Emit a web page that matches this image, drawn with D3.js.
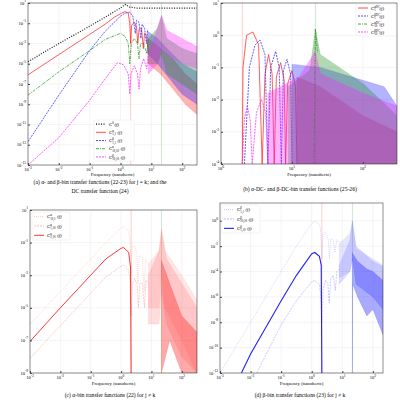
<!DOCTYPE html>
<html>
<head>
<meta charset="utf-8">
<script src="https://cdn.jsdelivr.net/npm/d3@7"></script>
<style>
  body { margin: 0; background: #fff; }
  text { font-family: "Liberation Serif", "DejaVu Serif", serif; }
</style>
</head>
<body>
<div id="chart"></div>
<script>
"use strict";

// all points are [log10 f, log10 C]; bands are [log10 f, log10 lo, log10 hi]

// panel (a)
var aC0 = [[-3,-4.8],[-2,-3.0],[-1,-1.3],[-0.5,-0.4],[0,0.5],[0.15,0.85],[0.3,0.6],[0.5,0.5],[1,0.5],[2.48,0.5]];
var aRed = [[-3,-6.1],[-2,-4.1],[-1,-2.1],[-0.5,-1.1],[-0.2,-0.4],[0,-0.05],[0.15,0.15],[0.25,0],[0.3,-1],[0.33,-3],[0.36,-1.2],[0.45,-0.9],[0.52,-1.4],[0.56,-3],[0.6,-1.6],[0.68,-1.5],[0.74,-3.5],[0.78,-2],[0.85,-2.2],[0.9,-4]];
var aRedBand = [[0.9,-5,-2.5],[1.3,-6,-3.5],[1.7,-7.5,-4.5],[2.1,-9,-6],[2.48,-10,-7]];
var aBlue = [[-3,-12.7],[-2,-8.1],[-1,-3.7],[-0.5,-1.8],[0,-0.3],[0.15,0],[0.3,0.1],[0.4,-0.3],[0.48,-2],[0.52,-0.7],[0.6,-0.9],[0.66,-2.5],[0.7,-1.1],[0.78,-1.5],[0.84,-3],[0.88,-1.6]];
var aBlueBand = [[0.88,-4,-1.8],[1.2,-5,-2.5],[1.6,-6.5,-3.8],[2,-8,-5],[2.48,-9,-5.8]];
var aGreen = [[-3,-8.1],[-2,-5.8],[-1,-3.7],[-0.5,-2.6],[0,-2.0],[0.15,-2.3],[0.25,-3],[0.3,-5],[0.35,-3],[0.45,-2.5],[0.55,-3],[0.6,-4.5],[0.65,-3],[0.75,-3],[0.85,-4],[0.9,-2.6]];
var aGreenBand = [[0.9,-5,-2.5],[1.2,-5,-1.5],[1.33,-4,-0.3],[1.5,-6,-2.5],[2,-7,-3.5],[2.48,-8,-4]];
var aMag = [[-3,-15.9],[-2,-12.3],[-1,-8.6],[-0.5,-6.5],[-0.1,-4.9],[0.1,-5.1],[0.25,-6],[0.3,-8],[0.34,-6],[0.45,-5.2],[0.55,-6],[0.6,-7.5],[0.65,-5.5],[0.75,-4.5],[0.85,-5.5],[0.9,-4]];
var aMagBand = [[0.9,-6,-4],[1.2,-5,-1.5],[1.33,-3.5,-0.2],[1.5,-4,-1.7],[2,-5,-2.5],[2.48,-5.5,-3.3]];

// panel (b)
var bRed = [[0.3,-4],[0.31,-1],[0.36,0],[0.45,0.1],[0.53,-0.3],[0.58,-4],[0.62,-1.2],[0.67,-0.6],[0.72,-1.2],[0.75,-4],[0.78,-1.3],[0.84,-0.85],[0.89,-1.4],[0.91,-4],[0.94,-1.5],[1.0,-1.1],[1.05,-1.6],[1.07,-4]];
var bRedBand = [[1.07,-4,-1.3],[1.4,-4,-1.6],[2,-4,-2.5],[2.48,-4,-3]];
var bBlue = [[0.33,-4],[0.4,-1],[0.48,-0.3],[0.55,-0.15],[0.62,-0.6],[0.66,-4],[0.7,-1],[0.77,-0.5],[0.82,-1],[0.85,-4],[0.88,-1.1],[0.93,-0.75],[0.98,-1.2],[1.0,-4]];
var bBlueBand = [[1.0,-4,-0.9],[1.4,-4,-1.0],[2,-4,-1.4],[2.3,-4,-1.6],[2.48,-4,-2.2]];
var bGreen = [[1.31,-4],[1.33,0.2],[1.36,-0.5]];
var bGreenBand = [[0.95,-4,-1.6],[1.25,-4,-1.1],[1.33,-4,0.2],[1.4,-4,-0.6],[2,-4,-1.5],[2.48,-4,-2.5]];
var bMag = [[0.3,-4],[0.33,-2.6],[0.37,-2.2],[0.41,-2.6],[0.44,-4],[0.5,-2.4],[0.57,-2],[0.63,-2.4],[0.66,-4]];
var bMagBand = [[0.66,-4,-1.8],[1.1,-4,-1.3],[1.33,-4,-0.5],[1.4,-4,-1.2],[2,-4,-1.8],[2.48,-4,-2.2]];

// panel (c)
var cTop = [[-3,-6],[-2,-4],[-1,-2],[-0.5,-1],[0,-0.1],[0.1,0],[0.25,-0.3],[0.3,-1],[0.33,-3],[0.36,-1.3],[0.45,-1.2],[0.52,-1.7],[0.56,-3.5],[0.6,-1.8],[0.7,-1.9],[0.76,-4],[0.8,-2],[0.9,-2.3]];
var cTopBand = [[0.9,-5,-2.3],[1.25,-5,-1.5],[1.33,-3,-0.1],[1.45,-5,-1.5],[2,-7,-3],[2.5,-9,-4.5]];
var cMid = [[-3,-7.06],[-2,-5],[-1,-3],[-0.5,-2],[0,-1.35],[0.08,-1.3],[0.25,-1.6],[0.31,-2.5],[0.33,-9]];
var cMidBand = [[1.33,-9,-2.1],[1.6,-7,-3.5],[2,-9,-5.5],[2.5,-9,-6.5]];
var cLow = [[-3,-8.1],[-2,-6.1],[-1,-4.1],[-0.5,-3.1],[0,-2.45],[0.1,-2.4],[0.25,-2.7],[0.3,-3.5],[0.33,-5.5],[0.37,-3.5],[0.45,-3.2],[0.53,-3.6],[0.57,-5],[0.62,-3.5],[0.7,-3.5],[0.77,-5],[0.82,-3.3],[0.9,-3.5]];
var cLowBand = [[0.9,-6,-3],[1.25,-6,-1.5],[1.33,-4,-0.3],[1.5,-6,-2],[2,-8,-3.5],[2.5,-9,-5]];

// panel (d)
var dTop = [[-3,-12],[-2,-8],[-1,-4],[-0.5,-2],[0,-0.2],[0.15,0],[0.28,-0.5],[0.33,-3],[0.37,-1],[0.46,-0.9],[0.54,-1.5],[0.58,-3],[0.62,-1.4],[0.7,-1.5],[0.76,-2.5],[0.82,-1.5],[0.9,-1.8]];
var dTopBand = [[0.9,-4.5,-1.8],[1.25,-4,-1],[1.33,-3,0],[1.45,-5,-2.2],[2,-6,-3],[2.33,-7,-3.5]];
var dMid = [[-2.3,-12],[-2,-10.5],[-1,-6.3],[-0.5,-4.3],[0,-2.6],[0.1,-2.5],[0.25,-2.8],[0.31,-3.5],[0.33,-12]];
var dMidBand = [[1.33,-12,-2.5],[1.34,-5,-2.6],[1.5,-6,-3.2],[1.8,-7.5,-3.8],[2,-7,-4],[2.33,-9,-4.7]];
var dLow = [[-1.8,-12],[-1,-8.2],[-0.5,-6.3],[0,-4.8],[0.1,-4.7],[0.25,-5],[0.3,-6],[0.33,-8],[0.37,-5.5],[0.45,-4.7],[0.53,-5],[0.57,-6.5],[0.62,-4.6],[0.7,-4.3],[0.77,-5.5],[0.82,-4],[0.9,-3.8]];
var dLowBand = [[0.9,-5,-3.5],[1.25,-4,-1.5],[1.33,-3,0],[1.45,-5,-2],[2,-6,-3.2],[2.33,-7,-3.6]];

var RED = "#ff2020", BLUE = "#2020ff", GREEN = "#209020", MAG = "#ff20ff";

var panels = [
    { box: [28, 197, 3, 165], xd: [-3, 2.48], yd: [-15, 1], ystep: 2, vlines: [0.33, 1.33],
      xlabelY: 176, caption: ["(a) \u03b1- and \u03b2-bin transfer functions (22-23) for j = k; and the", "DC transfer function (24)"], capY: 184, capX: 100,
      legend: { x: 94, y: 120, w: 40, h: 41 },
      series: [
        { pts: aC0, color: "#000", dash: "1,1.5", w: 1.2, label: ["C", "0", ""] },
        { pts: aRed, band: aRedBand, color: RED, dash: null, w: 0.8, label: ["C", "\u03b1", "1,1"] },
        { pts: aBlue, band: aBlueBand, color: BLUE, dash: "2,1", w: 0.8, label: ["C", "\u03b2", "1,1"] },
        { pts: aGreen, band: aGreenBand, color: GREEN, dash: "3,1,1,1", w: 0.8, label: ["C", "\u03b1", "10,10"] },
        { pts: aMag, band: aMagBand, color: MAG, dash: "2,1", w: 0.8, label: ["C", "\u03b2", "10,10"] }
      ] },
    { box: [221, 397, 3, 164], xd: [0, 2.48], yd: [-4, 1], ystep: 1, vlines: [0.3, 1.33],
      xlabelY: 176, caption: ["(b) \u03b1-DC- and \u03b2-DC-bin transfer functions (25-26)"], capY: 191, capX: 300,
      legend: { x: 356, y: 4, w: 40, h: 32 },
      series: [
        { pts: bRed, band: bRedBand, color: RED, dash: null, w: 0.8, label: ["C", "\u03b1DC", "1"] },
        { pts: bBlue, band: bBlueBand, color: BLUE, dash: "2,1", w: 0.8, label: ["C", "\u03b2DC", "1"] },
        { pts: bGreen, band: bGreenBand, color: GREEN, dash: "3,1,1,1", w: 0.8, label: ["C", "\u03b1DC", "10"] },
        { pts: bMag, band: bMagBand, color: MAG, dash: "2,1", w: 0.8, label: ["C", "\u03b2DC", "10"] }
      ] },
    { box: [30, 197, 210, 373], xd: [-3, 2.5], yd: [-9, 1], ystep: 2, vlines: [0.33, 1.33],
      xlabelY: 385, caption: ["(c) \u03b1-bin transfer functions (22) for j \u2260 k"], capY: 397, capX: 110,
      legend: { x: 32, y: 212, w: 38, h: 28 },
      series: [
        { pts: cTop, band: cTopBand, color: RED, dash: "1,1", w: 0.6, op: 0.3, label: ["C", "\u03b1", "10,1"] },
        { pts: cLow, band: cLowBand, color: RED, dash: "2,1", w: 0.6, op: 0.4, label: ["C", "\u03b1", "1,10"] },
        { pts: cMid, band: cMidBand, color: RED, dash: null, w: 0.9, op: 1, label: ["C", "\u03b1", "2,10"] }
      ] },
    { box: [220, 383, 203, 373], xd: [-3, 2.33], yd: [-12, 1.4], ystep: 2, vlines: [0.33, 1.33],
      xlabelY: 385, caption: ["(d) \u03b2-bin transfer functions (23) for j \u2260 k"], capY: 397, capX: 300,
      legend: { x: 222, y: 205, w: 38, h: 28 },
      series: [
        { pts: dTop, band: dTopBand, color: BLUE, dash: "1,1", w: 0.6, op: 0.3, label: ["C", "\u03b2", "1,1"] },
        { pts: dLow, band: dLowBand, color: BLUE, dash: "2,1", w: 0.6, op: 0.4, label: ["C", "\u03b2", "10,10"] },
        { pts: dMid, band: dMidBand, color: BLUE, dash: null, w: 1.1, op: 1, label: ["C", "\u03b2", "1,10"] }
      ] }
];

var svg = d3.select("#chart").append("svg").attr("width", 400).attr("height", 400);

function pow10(v) { return Math.pow(10, v); }

function powLabel(sel, e) {
    sel.text("10");
    sel.append("tspan").attr("dy", -2.5).attr("font-size", 3.6).text(e);
}

panels.forEach(function (p, pi) {
    var x = d3.scaleLog().domain(p.xd.map(pow10)).range([p.box[0], p.box[1]]),
        y = d3.scaleLog().domain(p.yd.map(pow10)).range([p.box[3], p.box[2]]).clamp(true),
        g = svg.append("g"),
        clipId = "clip" + pi,
        xt = d3.range(Math.ceil(p.xd[0]), Math.floor(p.xd[1]) + 1),
        yt = d3.range(Math.ceil(p.yd[0]), Math.floor(p.yd[1]) + 1).filter(function (e) { return (e - p.yd[0]) % p.ystep === 0; });

    g.append("clipPath").attr("id", clipId).append("rect")
        .attr("x", p.box[0]).attr("y", p.box[2])
        .attr("width", p.box[1] - p.box[0]).attr("height", p.box[3] - p.box[2]);

    // grid
    g.selectAll(".gx").data(xt).enter().append("line")
        .attr("x1", function (e) { return x(pow10(e)); }).attr("x2", function (e) { return x(pow10(e)); })
        .attr("y1", p.box[2]).attr("y2", p.box[3]).attr("stroke", "#e8e8e8").attr("stroke-width", 0.5);
    g.selectAll(".gy").data(yt).enter().append("line")
        .attr("y1", function (e) { return y(pow10(e)); }).attr("y2", function (e) { return y(pow10(e)); })
        .attr("x1", p.box[0]).attr("x2", p.box[1]).attr("stroke", "#e8e8e8").attr("stroke-width", 0.5);

    var plot = g.append("g").attr("clip-path", "url(#" + clipId + ")");

    plot.selectAll(".vl").data(p.vlines).enter().append("line")
        .attr("x1", function (v) { return x(pow10(v)); }).attr("x2", function (v) { return x(pow10(v)); })
        .attr("y1", p.box[2]).attr("y2", p.box[3])
        .attr("stroke", function (v, i) { return i === 0 ? "#ffb8b8" : "#bcdcbc"; }).attr("stroke-width", 0.7);

    var line = d3.line().x(function (d) { return x(pow10(d[0])); }).y(function (d) { return y(pow10(d[1])); });
    var area = d3.area().x(function (d) { return x(pow10(d[0])); })
        .y0(function (d) { return y(pow10(d[1])); }).y1(function (d) { return y(pow10(d[2])); });

    p.series.forEach(function (s) {
        var op = s.op === undefined ? 0.9 : s.op;
        if (s.band) {
            // dense oscillations drawn as a translucent envelope
            plot.append("path").attr("d", area(s.band)).attr("fill", s.color)
                .attr("fill-opacity", op * 0.38)
                .attr("stroke", s.color).attr("stroke-opacity", op * 0.5).attr("stroke-width", 0.3);
        }
        plot.append("path").attr("d", line(s.pts)).attr("fill", "none")
            .attr("stroke", s.color).attr("stroke-width", s.w).attr("stroke-opacity", op)
            .attr("stroke-dasharray", s.dash);
    });

    // frame + ticks
    g.append("rect").attr("x", p.box[0]).attr("y", p.box[2])
        .attr("width", p.box[1] - p.box[0]).attr("height", p.box[3] - p.box[2])
        .attr("fill", "none").attr("stroke", "#444").attr("stroke-width", 0.6);

    var xAxis = d3.axisBottom(x).tickValues(xt.map(pow10)).tickSize(-2).tickFormat("");
    g.append("g").attr("transform", "translate(0," + p.box[3] + ")").call(xAxis)
        .call(function (a) { a.select(".domain").remove(); a.selectAll("line").attr("stroke", "#444"); });
    var yAxis = d3.axisLeft(y).tickValues(yt.map(pow10)).tickSize(-2).tickFormat("");
    g.append("g").attr("transform", "translate(" + p.box[0] + ",0)").call(yAxis)
        .call(function (a) { a.select(".domain").remove(); a.selectAll("line").attr("stroke", "#444"); });

    g.selectAll(".xl").data(xt).enter().append("text")
        .attr("x", function (e) { return x(pow10(e)); }).attr("y", p.box[3] + 6)
        .attr("text-anchor", "middle").attr("font-size", 4.5)
        .each(function (e) { powLabel(d3.select(this), e); });
    g.selectAll(".yl").data(yt).enter().append("text")
        .attr("x", p.box[0] - 2).attr("y", function (e) { return y(pow10(e)) + 1.5; })
        .attr("text-anchor", "end").attr("font-size", 4.5)
        .each(function (e) { powLabel(d3.select(this), e); });

    g.append("text").attr("x", (p.box[0] + p.box[1]) / 2).attr("y", p.xlabelY)
        .attr("text-anchor", "middle").attr("font-size", 4.8).text("Frequency (nanohertz)");

    p.caption.forEach(function (c, i) {
        g.append("text").attr("x", p.capX).attr("y", p.capY + i * 9)
            .attr("text-anchor", "middle").attr("font-size", 5.6).text(c);
    });

    // legend
    var L = p.legend, rowH = L.h / p.series.length;
    g.append("rect").attr("x", L.x).attr("y", L.y).attr("width", L.w).attr("height", L.h)
        .attr("fill", "#fff").attr("fill-opacity", 0.85).attr("stroke", "#ddd").attr("stroke-width", 0.4).attr("rx", 1);
    p.series.forEach(function (s, i) {
        var cy = L.y + rowH * (i + 0.5), tx = L.x + 15, w;
        g.append("line").attr("x1", L.x + 2).attr("x2", L.x + 12).attr("y1", cy).attr("y2", cy)
            .attr("stroke", s.color).attr("stroke-width", Math.max(s.w, 0.8))
            .attr("stroke-opacity", s.op === undefined ? 1 : Math.max(s.op, 0.35))
            .attr("stroke-dasharray", s.dash);
        g.append("text").attr("x", tx).attr("y", cy + 1.6).attr("font-size", 4.6)
            .attr("font-style", "italic").text("C");
        g.append("text").attr("x", tx + 3.3).attr("y", cy - 0.4).attr("font-size", 3).text(s.label[1]);
        g.append("text").attr("x", tx + 3.3).attr("y", cy + 3.1).attr("font-size", 3).text(s.label[2]);
        w = Math.max(s.label[1].length, s.label[2].length) * 1.6;
        g.append("text").attr("x", tx + 3.8 + w).attr("y", cy + 1.6).attr("font-size", 4.6)
            .attr("font-style", "italic").text("(f)");
    });
});
</script>
</body>
</html>
